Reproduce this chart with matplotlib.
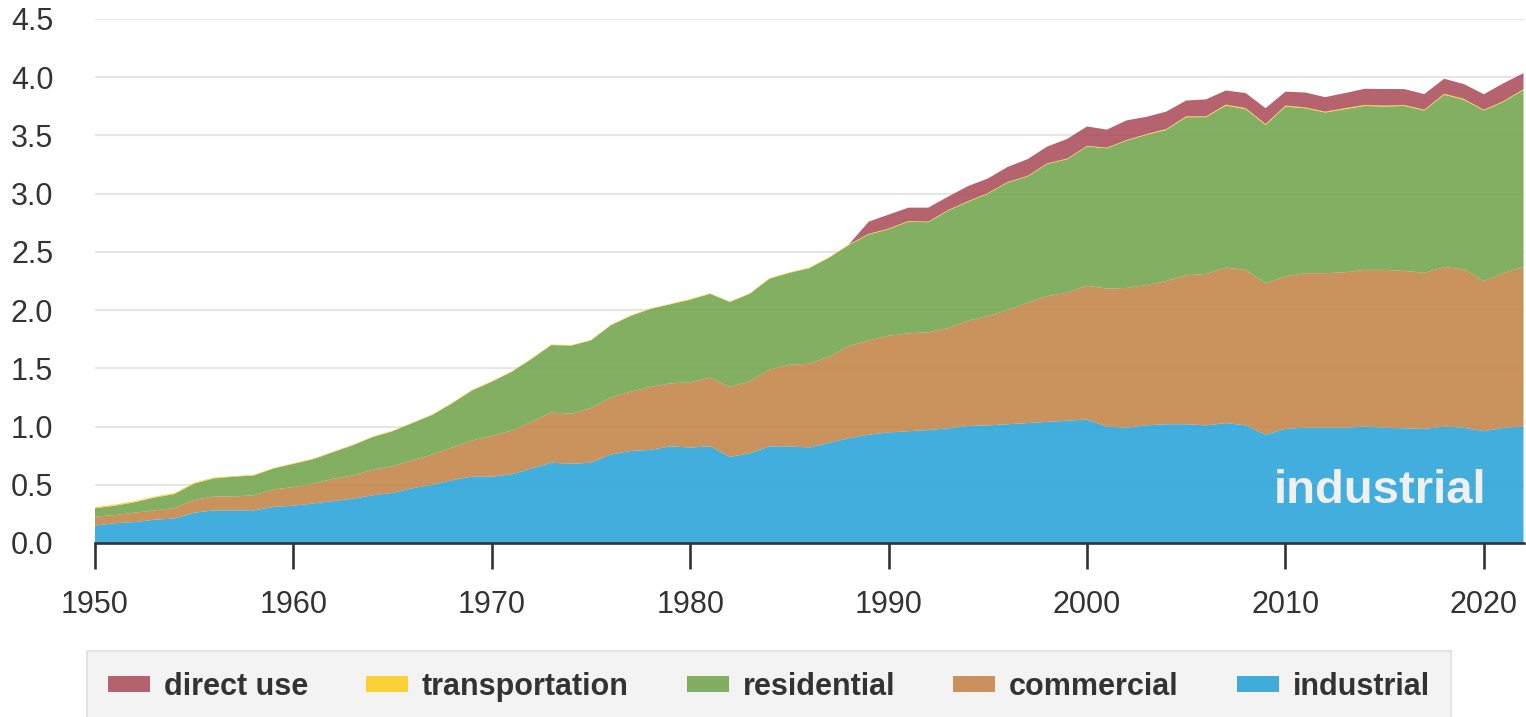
import matplotlib
matplotlib.use("Agg")
import matplotlib.pyplot as plt
from matplotlib.patches import Patch

plt.rcParams["font.family"] = ["Liberation Sans", "DejaVu Sans"]

years = list(range(1950, 2023))

# trillion kWh
industrial = [
    0.15, 0.17, 0.18, 0.20, 0.21, 0.26, 0.28, 0.28, 0.28, 0.31,
    0.32, 0.34, 0.36, 0.38, 0.41, 0.43, 0.47, 0.50, 0.54, 0.57,
    0.57, 0.59, 0.64, 0.69, 0.68, 0.69, 0.76, 0.79, 0.80, 0.83,
    0.82, 0.83, 0.74, 0.77, 0.83, 0.83, 0.82, 0.86, 0.90, 0.93,
    0.95, 0.96, 0.97, 0.985, 1.005, 1.01, 1.02, 1.03, 1.04, 1.05,
    1.06, 1.00, 0.99, 1.01, 1.02, 1.02, 1.01, 1.03, 1.01, 0.93,
    0.98, 0.99, 0.99, 0.99, 1.00, 0.99, 0.985, 0.98, 1.00, 0.99,
    0.96, 0.99, 1.00,
]
commercial = [
    0.076, 0.07, 0.08, 0.08, 0.09, 0.11, 0.12, 0.12, 0.13, 0.15,
    0.16, 0.17, 0.19, 0.20, 0.22, 0.23, 0.24, 0.26, 0.28, 0.31,
    0.35, 0.375, 0.40, 0.43, 0.43, 0.47, 0.49, 0.51, 0.54, 0.54,
    0.56, 0.59, 0.60, 0.62, 0.66, 0.70, 0.72, 0.74, 0.79, 0.81,
    0.83, 0.84, 0.84, 0.86, 0.905, 0.94, 0.98, 1.035, 1.08, 1.10,
    1.15, 1.185, 1.20, 1.206, 1.23, 1.28, 1.30, 1.335, 1.335, 1.30,
    1.31, 1.327, 1.327, 1.335, 1.345, 1.355, 1.352, 1.34, 1.37, 1.36,
    1.29, 1.33, 1.37,
]
residential = [
    0.072, 0.08, 0.09, 0.11, 0.12, 0.14, 0.155, 0.17, 0.17, 0.18,
    0.20, 0.21, 0.23, 0.26, 0.28, 0.30, 0.32, 0.34, 0.38, 0.43,
    0.465, 0.505, 0.54, 0.58, 0.585, 0.58, 0.62, 0.65, 0.67, 0.68,
    0.71, 0.72, 0.73, 0.75, 0.78, 0.79, 0.82, 0.85, 0.87, 0.91,
    0.915, 0.96, 0.945, 1.01, 1.02, 1.05, 1.095, 1.082, 1.136, 1.146,
    1.195, 1.205, 1.266, 1.289, 1.298, 1.357, 1.347, 1.392, 1.381, 1.36,
    1.458, 1.417, 1.38, 1.401, 1.409, 1.403, 1.417, 1.394, 1.48, 1.456,
    1.464, 1.47, 1.52,
]
transportation = [
    0.010, 0.010, 0.010, 0.009, 0.009, 0.008, 0.008, 0.005, 0.005, 0.005,
    0.005, 0.005, 0.005, 0.005, 0.005, 0.005, 0.005, 0.005, 0.005, 0.005,
    0.005, 0.005, 0.005, 0.005, 0.005, 0.005, 0.005, 0.005, 0.005, 0.005,
    0.005, 0.005, 0.005, 0.005, 0.005, 0.005, 0.005, 0.005, 0.005, 0.005,
    0.005, 0.005, 0.005, 0.005, 0.005, 0.005, 0.005, 0.005, 0.005, 0.005,
    0.005, 0.005, 0.005, 0.007, 0.007, 0.007, 0.007, 0.008, 0.008, 0.008,
    0.008, 0.007, 0.007, 0.008, 0.008, 0.008, 0.007, 0.007, 0.008, 0.008,
    0.006, 0.006, 0.007,
]
direct_use = [
    0.0, 0.0, 0.0, 0.0, 0.0, 0.0, 0.0, 0.0, 0.0, 0.0,
    0.0, 0.0, 0.0, 0.0, 0.0, 0.0, 0.0, 0.0, 0.0, 0.0,
    0.0, 0.0, 0.0, 0.0, 0.0, 0.0, 0.0, 0.0, 0.0, 0.0,
    0.0, 0.0, 0.0, 0.0, 0.0, 0.0, 0.0, 0.0, 0.0, 0.105,
    0.12, 0.115, 0.12, 0.115, 0.13, 0.125, 0.13, 0.144, 0.144, 0.169,
    0.167, 0.155, 0.169, 0.148, 0.15, 0.136, 0.146, 0.121, 0.13, 0.136,
    0.12, 0.128, 0.125, 0.13, 0.139, 0.143, 0.137, 0.134, 0.129, 0.127,
    0.134, 0.153, 0.138,
]

labels = ["industrial", "commercial", "residential", "transportation", "direct use"]
colors = ["#2ca5da", "#c5874b", "#75a751", "#fcce24", "#ad525e"]

fig = plt.figure(figsize=(15.26, 7.17), dpi=100)
ax = fig.add_axes([95 / 1526, 1 - 543 / 717, 1428.5 / 1526, 524 / 717])

ax.stackplot(years, industrial, commercial, residential, transportation, direct_use,
             colors=colors, alpha=0.9, linewidth=0, zorder=2)

ax.set_xlim(1950, 2022)
ax.set_ylim(0, 4.5)
ax.set_yticks([0, 0.5, 1.0, 1.5, 2.0, 2.5, 3.0, 3.5, 4.0, 4.5])
ax.set_yticklabels([f"{v:.1f}" for v in ax.get_yticks()])
ax.set_xticks(range(1950, 2021, 10))
ax.grid(axis="y", color="#e6e6e6", linewidth=1.5, zorder=1)
ax.set_axisbelow(True)

for side in ["top", "right", "left"]:
    ax.spines[side].set_visible(False)
ax.spines["bottom"].set_color("#333333")
ax.spines["bottom"].set_linewidth(1.9)
ax.spines["bottom"].set_zorder(5)

ax.tick_params(axis="y", length=0, pad=30, labelsize=22, labelcolor="#333333")
ax.tick_params(axis="x", length=18.5, width=1.9, color="#333333", pad=15,
               labelsize=22, labelcolor="#333333")

ax.text(2020.15, 0.344, "industrial", ha="right", va="baseline",
        fontsize=34, fontweight="bold", color="#f0f0f0", zorder=4)

handles = [Patch(facecolor=c, alpha=0.9, edgecolor="none") for c in colors[::-1]]
leg = fig.legend(handles, labels[::-1], loc="upper left",
                 bbox_to_anchor=(87 / 1526, 1 - 651 / 717), bbox_transform=fig.transFigure,
                 ncol=5, frameon=True, fancybox=False, borderaxespad=0,
                 prop={"weight": "bold", "size": 22},
                 handlelength=1.37, handleheight=0.45, handletextpad=0.46,
                 columnspacing=1.9, borderpad=0.68)
leg.get_frame().set_facecolor("#f0f0f0")
leg.get_frame().set_edgecolor("#dedede")
leg.get_frame().set_linewidth(1.5)
for t in leg.get_texts():
    t.set_color("#333333")

fig.savefig("out.png", dpi=100)
